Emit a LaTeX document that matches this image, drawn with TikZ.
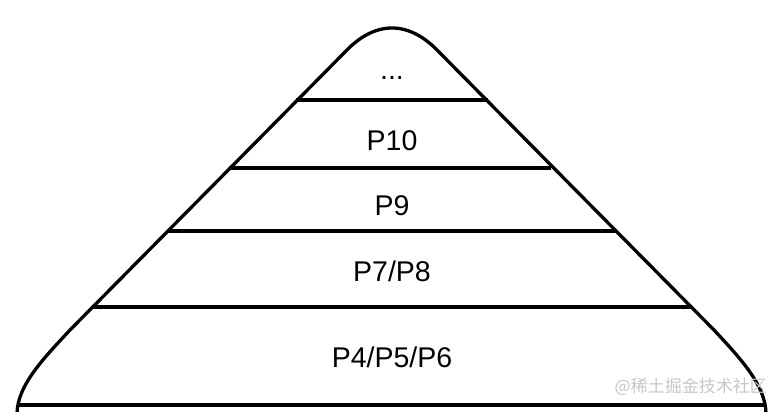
\documentclass[tikz,border=0pt]{standalone}
\usepackage{fontspec}
\setmainfont{Liberation Sans}
\newfontfamily\cjkfont{Noto Sans CJK SC}
\begin{document}
\begin{tikzpicture}[x=1pt,y=-1pt,
  outline/.style={line width=3.3pt,line join=round,line cap=round},
  layerline/.style={line width=4pt},
  lbl/.style={font=\fontsize{28.5}{30}\selectfont,inner sep=0pt,anchor=base}]
\useasboundingbox (0,0) rectangle (782,412);
% outline
\draw[outline] (17,414) .. controls (17,385) and (45,357) .. (70,330)
  -- (345,52) .. controls (375,20) and (409,20) .. (439,52)
  -- (714,330) .. controls (739,357) and (766,385) .. (766,414);
% layer separators
\draw[layerline] (296,100) -- (488,100);
\draw[layerline] (229,168) -- (551,168);
\draw[layerline] (168,231) -- (617,231);
\draw[layerline] (93,307) -- (692,307);
\draw[layerline] (17,405) -- (766,405);
% labels
\node[lbl] (top) at (392,80) {...};
\node[lbl] (p10) at (392,150) {P10};
\node[lbl] (p9) at (392,215) {P9};
\node[lbl] (p78) at (392,281) {P7/P8};
\node[lbl] (p456) at (392,367) {P4/P5/P6};
\node[font=\cjkfont\fontsize{17}{18}\selectfont,text=black!22,inner sep=0pt,anchor=east] (wm) at (767,387) {@稀土掘金技术社区};
\end{tikzpicture}
\end{document}
